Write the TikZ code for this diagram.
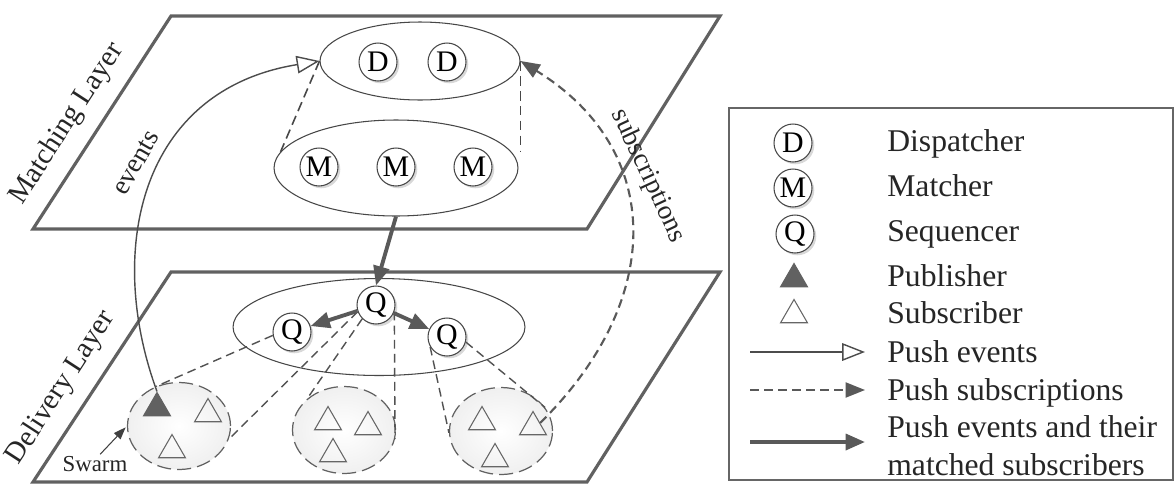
\documentclass[tikz,border=0pt]{standalone}
\usepackage{fontspec}
\setmainfont{Liberation Serif}
\usetikzlibrary{arrows.meta,shapes.geometric,shadows}
\begin{document}
\begin{tikzpicture}[x=0.02cm,y=-0.02cm,
  plane/.style={draw=black!62, line width=1.8pt, line join=miter, fill=white},
  ring/.style={ellipse, draw=black!72, line width=0.6pt, inner sep=0pt},
  proc/.style={circle, draw=black!72, line width=0.6pt, fill=white, minimum size=0.76cm, inner sep=0pt,
    font=\fontsize{17}{17}\selectfont,
    drop shadow={shadow xshift=1.3pt, shadow yshift=-1.3pt, opacity=0.3, fill=gray}},
  swarm/.style={ellipse, draw=black!62, dash pattern=on 8pt off 3.5pt, line width=0.7pt,
    inner color=white, outer color=black!6, minimum width=2.06cm, minimum height=1.74cm, inner sep=0pt},
  sub/.style={regular polygon, regular polygon sides=3, draw=black!60, line width=0.6pt,
    minimum size=0.62cm, inner sep=0pt},
  pub/.style={sub, fill=black!62, draw=black!62},
  proj/.style={draw=black!68, line width=0.8pt, dash pattern=on 5pt off 3pt},
  link/.style={draw=black!72, line width=0.9pt, dash pattern=on 5.5pt off 3pt},
  hard/.style={draw=black!65, line width=2.2pt, -{Triangle[length=11pt,width=9pt]}},
  evt/.style={draw=black!70, line width=0.8pt, -{Triangle[length=13pt,width=10pt,fill=white]}},
  subsc/.style={draw=black!65, line width=1.2pt, dash pattern=on 5pt off 3pt, -{Triangle[length=11pt,width=8.5pt]}},
  lbl/.style={font=\fontsize{16.5}{18}\selectfont, text=black!85, inner sep=0pt},
  arclbl/.style={font=\fontsize{15.5}{17}\selectfont, text=black!85, inner sep=0pt},
  legtext/.style={font=\fontsize{18}{20}\selectfont, text=black!85, inner sep=0pt, anchor=base west}
]
\useasboundingbox (0,0) rectangle (1175,484);
\fill[white] (0,0) rectangle (1175,484);

% planes
\draw[plane] (171,16) -- (720,16) -- (587,229) -- (33,229) -- cycle;
\draw[plane] (171,272) -- (720,272) -- (587,482) -- (33,482) -- cycle;
\node[lbl, rotate=57] (mlayer) at (67,124) {Matching Layer};
\node[lbl, rotate=57] (dlayer) at (61,388) {Delivery Layer};

% ellipses
\node[ring, minimum width=4cm, minimum height=1.56cm] (dell) at (420,61) {};
\node[ring, minimum width=4.88cm, minimum height=1.92cm] (mell) at (396,168) {};
\node[ring, minimum width=5.84cm, minimum height=1.94cm] (qell) at (379,327) {};

% swarms
\node[swarm] (s1) at (179,426) {};
\node[swarm] (s2) at (344,430) {};
\node[swarm] (s3) at (501,431) {};

% projections D-M
\draw[link] (dell.west) -- (mell.172);
\draw[link] (dell.east) -- (dell.east |- mell.8);

% processes
\node[proc] (d1) at (378,62) {D};
\node[proc] (d2) at (447,62) {D};
\node[proc] (m1) at (319,167) {M};
\node[proc] (m2) at (396,167) {M};
\node[proc] (m3) at (473,167) {M};
\node[proc] (qt) at (376,305) {Q};
\node[proc] (ql) at (292,332) {Q};
\node[proc] (qr) at (447,337) {Q};

% projections Q-swarms
\draw[proj] (ql.190) -- (s1.120);
\draw[proj] (qt.200) -- (s1.-15);
\draw[proj] (qt.225) -- (s2.140);
\draw[proj] (qt.-20) -- (s2.-10);
\draw[proj] (qr.210) -- (s3.182);
\draw[proj] (qr.-15) -- (s3.28);

% triangles
\node[pub] (pb) at (157,408) {};
\node[sub] (s1a) at (208,414) {};
\node[sub] (s1b) at (172,450) {};
\node[sub] (s2a) at (328,422) {};
\node[sub] (s2b) at (368,427) {};
\node[sub] (s2c) at (333,454) {};
\node[sub] (s3a) at (482,422) {};
\node[sub] (s3b) at (533,427) {};
\node[sub] (s3c) at (495,459) {};

% thick arrows
\draw[hard] (mell.south) -- (qt.north);
\draw[hard] (qt) -- (ql);
\draw[hard] (qt) -- (qr);

% events arc
\draw[evt] (pb.north) .. controls (105,250) and (140,90) .. (dell.west);
\node[arclbl, rotate=60] (evlbl) at (136,163) {events};

% subscriptions arc
\draw[subsc] (s3b.30) .. controls (665,300) and (665,150) .. (dell.east);
\node[arclbl, rotate=-65] (sublbl) at (648,176) {subscriptions};

% swarm label
\node[font=\fontsize{13}{14}\selectfont, text=black!85, inner sep=1pt] (swl) at (95,464) {Swarm};
\draw[draw=black!75, line width=0.6pt, -{Triangle[length=7pt,width=5pt]}, shorten >=1pt] (swl.62) -- (s1.west);

% legend
\draw[draw=black!60, line width=0.8pt, fill=white] (729,108) rectangle (1173,480);
\node[proc] (lgD) at (793,143) {D};
\node[proc] (lgM) at (793,188) {M};
\node[proc] (lgQ) at (795,234) {Q};
\node[pub] (lgP) at (794,279) {};
\node[sub] (lgS) at (794,315) {};
\coordinate (la0) at (750,352); \coordinate (la1) at (865,352);
\coordinate (lb0) at (750,390); \coordinate (lb1) at (865,390);
\coordinate (lc0) at (750,442); \coordinate (lc1) at (865,442);
\draw[evt] (la0) -- (la1);
\draw[subsc] (lb0) -- (lb1);
\draw[hard] (lc0) -- (lc1);
\node[legtext] (tD) at (887,151) {Dispatcher};
\node[legtext] (tM) at (887,196) {Matcher};
\node[legtext] (tQ) at (887,241) {Sequencer};
\node[legtext] (tP) at (887,286) {Publisher};
\node[legtext] (tS) at (887,323) {Subscriber};
\node[legtext] (tE) at (887,362) {Push events};
\node[legtext] (tU) at (887,400) {Push subscriptions};
\node[legtext] (tH1) at (887,437) {Push events and their};
\node[legtext] (tH2) at (887,475) {matched subscribers};
\end{tikzpicture}
\end{document}
